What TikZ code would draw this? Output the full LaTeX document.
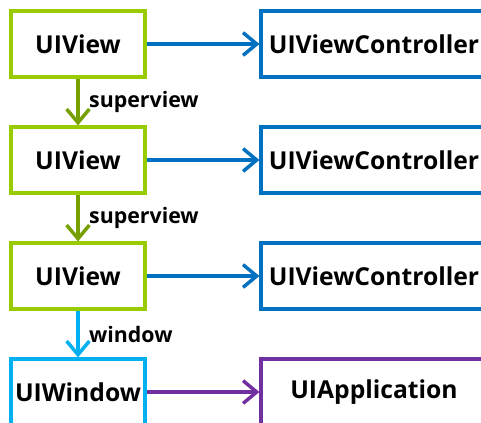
\documentclass[tikz,border=0pt]{standalone}
\usepackage{fontspec}
\setmainfont{Open Sans}
\usetikzlibrary{arrows.meta}
\definecolor{lime}{RGB}{153,204,0}
\definecolor{olive}{RGB}{118,160,0}
\definecolor{ocean}{RGB}{0,112,192}
\definecolor{sky}{RGB}{0,176,240}
\definecolor{grape}{RGB}{112,48,160}
\tikzset{
  >={Straight Barb[length=3.6mm,width=6mm,line width=2.6pt]},
  box/.style={draw=#1,line width=2.4pt,fill=white,minimum width=100.5pt,
    minimum height=49.5pt,inner sep=0pt,font=\fontsize{18.5}{20}\selectfont\bfseries},
  box/.default=lime,
  ctrl/.style={box=#1,minimum width=169.5pt},
  ctrl/.default=ocean,
  link/.style={->,line width=2.8pt,draw=#1},
  tag/.style={font=\fontsize{16}{18}\selectfont\bfseries,anchor=west,inner sep=0pt},
}
\begin{document}
\begin{tikzpicture}[x=0.75pt,y=-0.75pt]
  \useasboundingbox (0,0) rectangle (481,422);
  \clip (0,0) rectangle (481,422);
  % left column
  \node[box] (v1) at (78,44) {UIView};
  \node[box] (v2) at (78,160) {UIView};
  \node[box] (v3) at (78,276) {UIView};
  \node[box=sky] (win) at (78,392) {UIWindow};
  % right column
  \node[ctrl] (c1) at (374,44) {UIViewController};
  \node[ctrl] (c2) at (374,160) {UIViewController};
  \node[ctrl] (c3) at (374,276) {UIViewController};
  \node[ctrl=grape] (app) at (374,392) {UIApplication};
  % links
  \draw[link=ocean] (v1) -- (c1);
  \draw[link=ocean] (v2) -- (c2);
  \draw[link=ocean] (v3) -- (c3);
  \draw[link=grape] (win) -- (app);
  \draw[link=olive] (v1) -- node[tag,xshift=7pt] {superview} (v2);
  \draw[link=olive] (v2) -- node[tag,xshift=7pt] {superview} (v3);
  \draw[link=sky] (v3) -- node[tag,xshift=7pt] {window} (win);
\end{tikzpicture}
\end{document}
